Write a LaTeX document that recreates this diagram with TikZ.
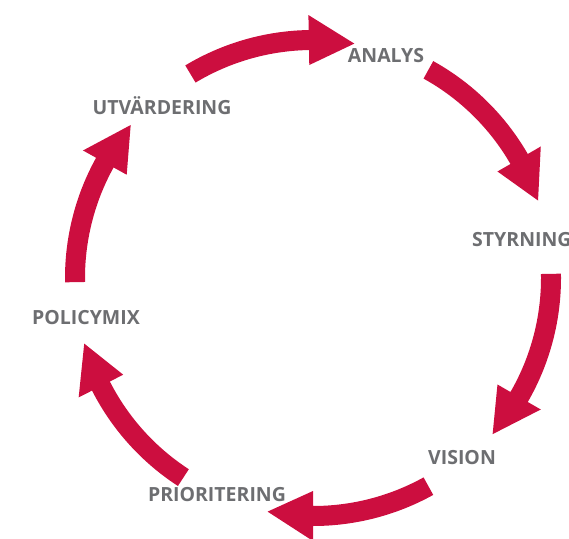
\documentclass[tikz,border=0pt]{standalone}
\usepackage{fontspec}
\setmainfont{Open Sans}
\definecolor{cyc}{RGB}{204,14,63}
\definecolor{lbl}{RGB}{109,110,113}
\tikzset{
  lab/.style={text=lbl,font=\fontsize{19.5}{22}\selectfont\bfseries,inner sep=0pt},
  cycarrow/.style={fill=cyc,draw=none}
}
\begin{document}
\begin{tikzpicture}[x=1pt,y=1pt]
\useasboundingbox (0,0) rectangle (569,538);
\coordinate (c) at (313,260);
\def\R{238}
\def\w{10}
\def\h{25}
\foreach \ta/\tb in {121/80, 61/19, 1/-41, -61/-101, -123/-164, 181/140}{
  \pgfmathsetmacro{\bs}{\tb+11}
  \pgfmathsetmacro{\Ro}{\R+\w}
  \pgfmathsetmacro{\Ri}{\R-\w}
  \pgfmathsetmacro{\Ho}{\R+\h}
  \pgfmathsetmacro{\Hi}{\R-\h}
  \fill[cycarrow,shift={(c)}] (\ta:\Ro) arc[start angle=\ta, end angle=\bs, radius=\Ro]
    -- (\bs:\Ho) -- (\tb:\R) -- (\bs:\Hi) -- (\bs:\Ri)
    arc[start angle=\bs, end angle=\ta, radius=\Ri] -- cycle;
}
\node[lab] (analys) at (386,482) {ANALYS};
\node[lab,anchor=west] (styrning) at (472,298) {STYRNING};
\node[lab] (vision) at (462,80) {VISION};
\node[lab] (prio) at (217,43) {PRIORITERING};
\node[lab] (policy) at (86,220) {POLICYMIX};
\node[lab] (utv) at (162,432) {UTVÄRDERING};
\end{tikzpicture}
\end{document}
